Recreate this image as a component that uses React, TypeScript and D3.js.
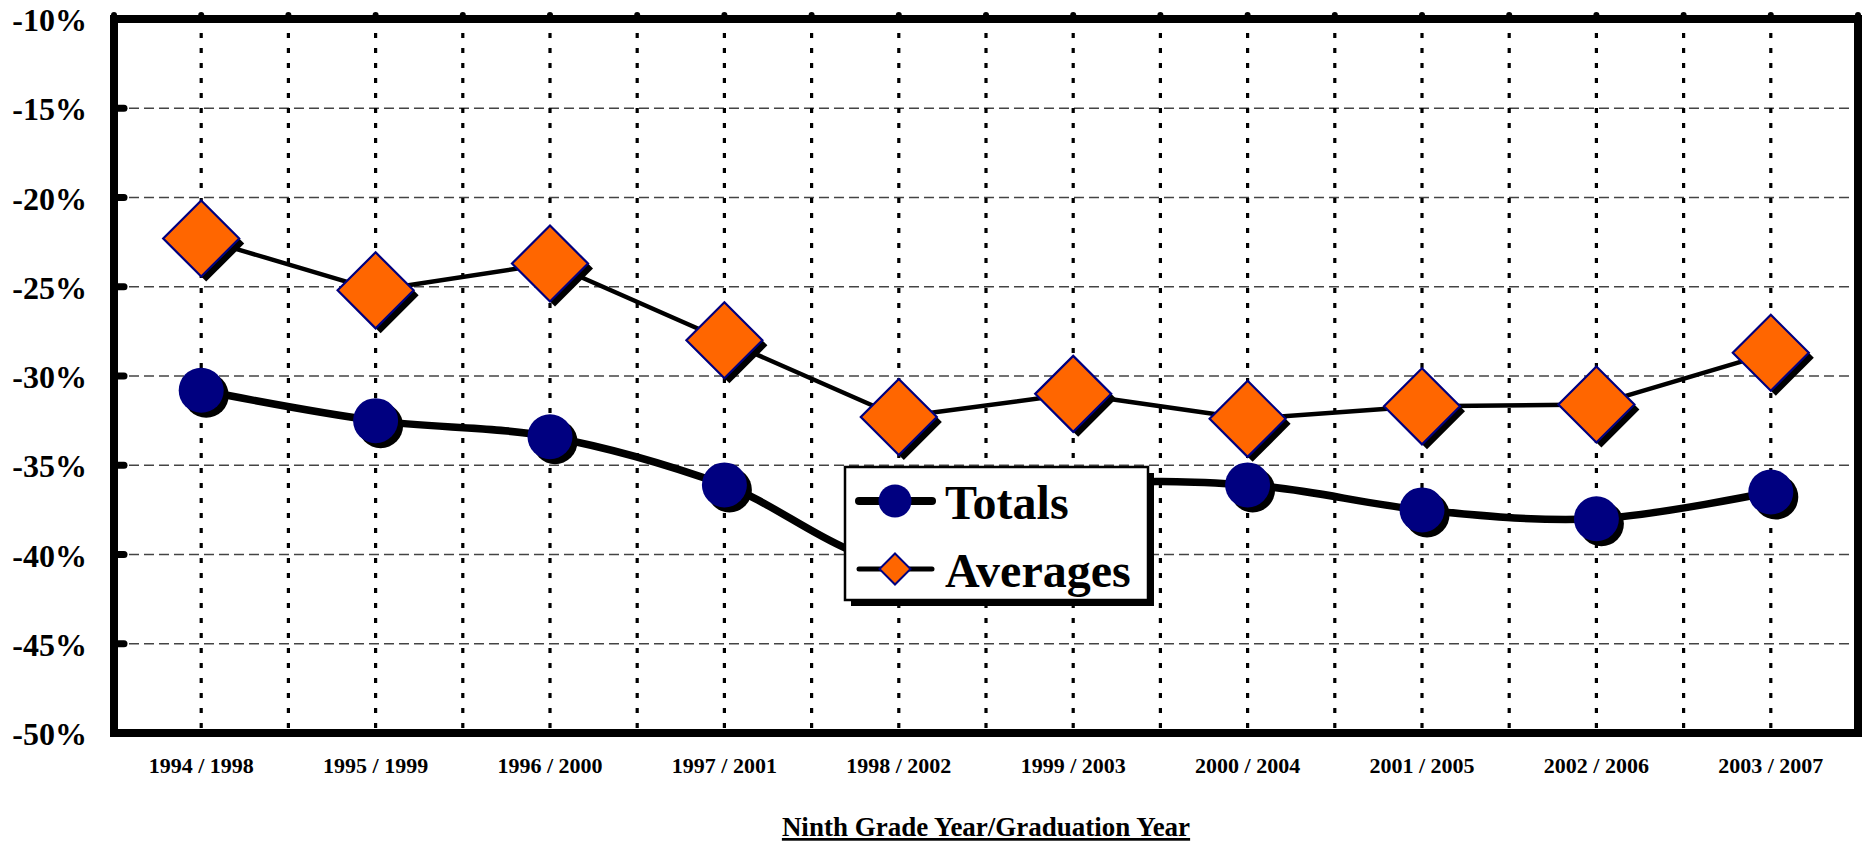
import React from "react";
import * as d3 from "d3";

const categories = [
  "1994 / 1998", "1995 / 1999", "1996 / 2000", "1997 / 2001", "1998 / 2002",
  "1999 / 2003", "2000 / 2004", "2001 / 2005", "2002 / 2006", "2003 / 2007",
];
const totals = [-30.8, -32.5, -33.4, -36.1, -40.4, -36.4, -36.1, -37.5, -38.0, -36.5];
const averages = [-22.3, -25.2, -23.7, -28.0, -32.3, -31.0, -32.4, -31.7, -31.6, -28.7];
const yTicks = [-50, -45, -40, -35, -30, -25, -20, -15, -10];
const seriesNames = ["Totals", "Averages"];
const xTitle = "Ninth Grade Year/Graduation Year";

const W = 1864;
const H = 843;
const L = 114, R = 1858, T = 19, B = 733;
const FONT = "'Liberation Serif', 'Times New Roman', serif";
const NAVY = "#000080";
const ORANGE = "#FF6600";

function Diamond({ cx, cy, r, sw }: { cx: number; cy: number; r: number; sw: number }) {
  const pts = (dx: number, dy: number) =>
    `${cx + dx},${cy + dy - r} ${cx + dx + r},${cy + dy} ${cx + dx},${cy + dy + r} ${cx + dx - r},${cy + dy}`;
  return (
    <g>
      <polygon points={pts(5, 5)} fill="#000" />
      <polygon points={pts(0, 0)} fill={ORANGE} stroke={NAVY} strokeWidth={sw} strokeLinejoin="miter" />
    </g>
  );
}

export default function App() {
  const x = d3.scaleBand<string>().domain(categories).range([L, R]).padding(0);
  const bw = x.bandwidth();
  const cx = (c: string) => (x(c) as number) + bw / 2;
  const y = d3.scaleLinear().domain([-50, -10]).range([B, T]);

  const totalsLine = d3
    .line<number>()
    .x((_, i) => cx(categories[i]))
    .y((d) => y(d))
    .curve(d3.curveCardinal.tension(0))(totals) as string;
  const avgLine = d3
    .line<number>()
    .x((_, i) => cx(categories[i]))
    .y((d) => y(d))(averages) as string;

  const halfSteps = d3.range(1, categories.length * 2).map((k) => L + (k * bw) / 2);
  const topTicks = d3.range(0, categories.length * 2 + 1).map((k) => L + (k * bw) / 2);

  // legend
  const lgX = 845, lgY = 467, lgW = 303, lgH = 133;
  const row1 = 501, row2 = 569;

  return (
    <svg
      width={W}
      height={H}
      style={{ position: "absolute", left: 0, top: 0, background: "#fff" }}
      fontFamily={FONT}
    >
      <rect x={0} y={0} width={W} height={H} fill="#fff" />
      {/* horizontal gridlines */}
      {yTicks.filter((t) => t > -50 && t < -10).map((t) => (
        <line key={"h" + t} x1={L} x2={R} y1={y(t)} y2={y(t)} stroke="#444" strokeWidth={1.3} strokeDasharray="10 5" />
      ))}
      {/* vertical gridlines */}
      {halfSteps.map((xv, i) => (
        <line key={"v" + i} x1={xv} x2={xv} y1={T + 14} y2={B} stroke="#000" strokeWidth={3.2} strokeDasharray="5 10" />
      ))}
      {/* tick bumps */}
      {topTicks.map((xv, i) => (
        <line key={"tt" + i} x1={xv} x2={xv} y1={T} y2={T - 4} stroke="#000" strokeWidth={6} strokeLinecap="round" />
      ))}
      {yTicks.map((t) => (
        <line key={"lt" + t} x1={L} x2={L + 10} y1={y(t)} y2={y(t)} stroke="#000" strokeWidth={7} strokeLinecap="round" />
      ))}
      {/* border */}
      <rect x={L} y={T} width={R - L} height={B - T} fill="none" stroke="#000" strokeWidth={8} />
      {/* y labels */}
      {yTicks.map((t) => (
        <text key={"yl" + t} x={87} y={y(t) + 12} textAnchor="end" fontSize={32} fontWeight="bold" fill="#000">
          {`${t}%`}
        </text>
      ))}
      {/* x labels */}
      {categories.map((c) => (
        <text key={"xl" + c} x={cx(c)} y={773} textAnchor="middle" fontSize={22} fontWeight="bold" fill="#000">
          {c}
        </text>
      ))}
      <text
        x={(L + R) / 2}
        y={836}
        textAnchor="middle"
        fontSize={27}
        fontWeight="bold"
        fill="#000"
        style={{ textDecoration: "underline" }}
      >
        {xTitle}
      </text>
      {/* lines */}
      <path d={avgLine} fill="none" stroke="#000" strokeWidth={4.5} strokeLinejoin="round" />
      <path d={totalsLine} fill="none" stroke="#000" strokeWidth={7.5} strokeLinejoin="round" />
      {/* markers */}
      {averages.map((v, i) => (
        <Diamond key={"d" + i} cx={cx(categories[i])} cy={y(v)} r={38} sw={2.2} />
      ))}
      {totals.map((v, i) => (
        <g key={"c" + i}>
          <circle cx={cx(categories[i]) + 5} cy={y(v) + 5} r={22.5} fill="#000" />
          <circle cx={cx(categories[i])} cy={y(v)} r={22.5} fill={NAVY} />
        </g>
      ))}
      {/* legend */}
      <rect x={lgX + 6} y={lgY + 6} width={lgW} height={lgH} fill="#000" />
      <rect x={lgX} y={lgY} width={lgW} height={lgH} fill="#fff" stroke="#000" strokeWidth={2.5} />
      <line x1={859} x2={932} y1={row1} y2={row1} stroke="#000" strokeWidth={8} strokeLinecap="round" />
      <circle cx={895} cy={row1} r={16.5} fill={NAVY} />
      <line x1={859} x2={932} y1={row2} y2={row2} stroke="#000" strokeWidth={5} strokeLinecap="round" />
      <polygon
        points={`895,${row2 - 15.5} ${895 + 15.5},${row2} 895,${row2 + 15.5} ${895 - 15.5},${row2}`}
        fill={ORANGE}
        stroke={NAVY}
        strokeWidth={2}
      />
      <text x={945} y={519} fontSize={48} fontWeight="bold" fill="#000">{seriesNames[0]}</text>
      <text x={945} y={587} fontSize={48} fontWeight="bold" fill="#000">{seriesNames[1]}</text>
    </svg>
  );
}
